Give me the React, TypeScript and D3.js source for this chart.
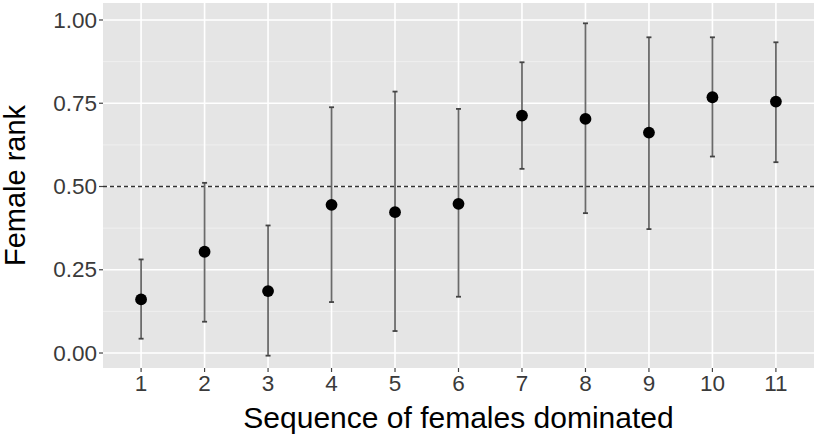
import { useEffect } from "react";
import * as d3 from "d3";

// sequence of females dominated (x categories)
const sequence = ["1", "2", "3", "4", "5", "6", "7", "8", "9", "10", "11"];
// mean female rank and the error bar ends
const rankMean = [0.161, 0.304, 0.186, 0.445, 0.423, 0.448, 0.713, 0.703, 0.662, 0.768, 0.755];
const rankLow = [0.043, 0.094, -0.008, 0.153, 0.066, 0.169, 0.553, 0.42, 0.372, 0.59, 0.573];
const rankHigh = [0.281, 0.511, 0.383, 0.738, 0.785, 0.733, 0.873, 0.99, 0.948, 0.948, 0.933];
const yTicks = [0, 0.25, 0.5, 0.75, 1];
const yMinor = [0.125, 0.375, 0.625, 0.875];
const refLine = 0.5;

export default function App() {
  const width = 817;
  const height = 438;
  const marginTop = 3;
  const marginRight = 3;
  const marginBottom = 70;
  const marginLeft = 103;

  useEffect(() => {
    document.body.style.margin = "0";
  }, []);

  const x = d3.scalePoint()
    .domain(sequence)
    .range([marginLeft, width - marginRight])
    .padding(0.6);

  const y = d3.scaleLinear()
    .domain([-0.045, 1.051])
    .range([height - marginBottom, marginTop]);

  const fmt = d3.format(".2f");
  const font = "'Liberation Sans', Arial, sans-serif";
  const panelBottom = height - marginBottom;

  return (
    <svg width={width} height={height} style={{ display: "block" }} fontFamily={font}>
      <rect x={marginLeft} y={marginTop} width={width - marginRight - marginLeft}
        height={panelBottom - marginTop} fill="#e5e5e5" />
      {/* minor grid */}
      <g stroke="#f2f2f2" strokeWidth={0.8}>
        {yMinor.map(t => (
          <line key={t} x1={marginLeft} x2={width - marginRight} y1={y(t)} y2={y(t)} />
        ))}
      </g>
      {/* major grid */}
      <g stroke="#ffffff" strokeWidth={1.6}>
        {yTicks.map(t => (
          <line key={t} x1={marginLeft} x2={width - marginRight} y1={y(t)} y2={y(t)} />
        ))}
        {sequence.map(s => (
          <line key={s} x1={x(s)} x2={x(s)} y1={marginTop} y2={panelBottom} />
        ))}
      </g>
      {/* reference line */}
      <line x1={marginLeft} x2={width - marginRight} y1={y(refLine)} y2={y(refLine)}
        stroke="#333" strokeWidth={1.5} strokeDasharray="4,3" />
      {/* error bars */}
      <g stroke="#6a6a6a" strokeWidth={1.8}>
        {sequence.map((s, i) => (
          <g key={s}>
            <line x1={x(s)} x2={x(s)} y1={y(rankLow[i])} y2={y(rankHigh[i])} />
            <line x1={x(s)! - 2.5} x2={x(s)! + 2.5} y1={y(rankLow[i])} y2={y(rankLow[i])} stroke="#444" />
            <line x1={x(s)! - 2.5} x2={x(s)! + 2.5} y1={y(rankHigh[i])} y2={y(rankHigh[i])} stroke="#444" />
          </g>
        ))}
      </g>
      {/* points */}
      <g fill="#000">
        {sequence.map((s, i) => (
          <circle key={s} cx={x(s)} cy={y(rankMean[i])} r={5.9} />
        ))}
      </g>
      {/* y axis */}
      <g>
        {yTicks.map(t => (
          <g key={t} transform={`translate(0,${y(t)})`}>
            <line x1={marginLeft - 4} x2={marginLeft} stroke="#444" strokeWidth={1.2} />
            <text x={marginLeft - 6} dy="0.34em" textAnchor="end" fontSize={22.5} fill="#3a3a3a">
              {fmt(t)}
            </text>
          </g>
        ))}
      </g>
      {/* x axis */}
      <g>
        {sequence.map(s => (
          <g key={s} transform={`translate(${x(s)},${panelBottom})`}>
            <line y1={0} y2={4} stroke="#444" strokeWidth={1.2} />
            <text y={23} textAnchor="middle" fontSize={22.5} fill="#3a3a3a">{s}</text>
          </g>
        ))}
      </g>
      <text x={(marginLeft + width - marginRight) / 2} y={428} textAnchor="middle"
        fontSize={30} fill="#000">Sequence of females dominated</text>
      <text transform={`translate(25,${(marginTop + panelBottom) / 2}) rotate(-90)`}
        textAnchor="middle" fontSize={29} fill="#000">Female rank</text>
    </svg>
  );
}
